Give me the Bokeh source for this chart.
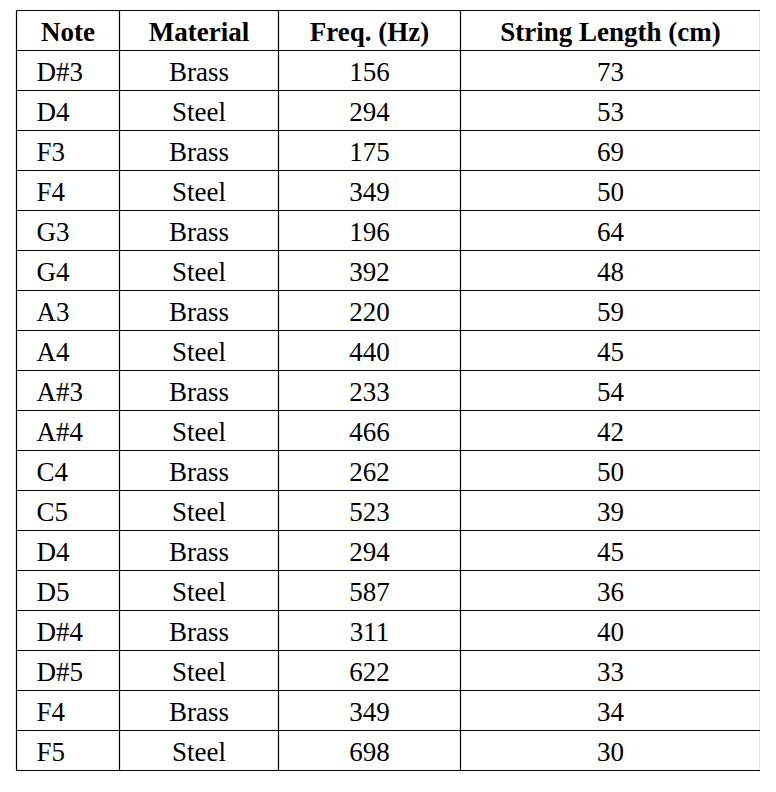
from bokeh.plotting import figure
from bokeh.models import Range1d
from bokeh.core.properties import value
from bokeh.embed import file_html
from bokeh.resources import INLINE

headers = ["Note", "Material", "Freq. (Hz)", "String Length (cm)"]
notes = ["D#3", "D4", "F3", "F4", "G3", "G4", "A3", "A4", "A#3", "A#4",
         "C4", "C5", "D4", "D5", "D#4", "D#5", "F4", "F5"]
materials = ["Brass", "Steel"] * 9
freqs = [156, 294, 175, 349, 196, 392, 220, 440, 233, 466,
         262, 523, 294, 587, 311, 622, 349, 698]
lengths = [73, 53, 69, 50, 64, 48, 59, 45, 54, 42,
           50, 39, 45, 36, 40, 33, 34, 30]

col_edges = [16, 119, 278, 460, 760]
top, row_h = 10, 40
n_rows = len(notes) + 1
bottom = top + n_rows * row_h

p = figure(width=760, height=776, x_range=Range1d(0, 760), y_range=Range1d(776, 0),
           output_backend="svg", toolbar_location=None, min_border=0)
p.axis.visible = False
p.grid.visible = False
p.outline_line_color = None

ys = [top + i * row_h for i in range(n_rows + 1)]
p.segment(x0=[col_edges[0]] * len(ys), x1=[col_edges[-1]] * len(ys), y0=ys, y1=ys,
          line_color="black", line_width=1.2)
p.segment(x0=col_edges, x1=col_edges, y0=[top] * len(col_edges), y1=[bottom] * len(col_edges),
          line_color="black", line_width=1.2)

font = value("Liberation Serif")
centers = [(col_edges[i] + col_edges[i + 1]) / 2 for i in range(4)]
hy = top + row_h / 2 + 1
p.text(x=centers, y=[hy] * 4, text=headers, text_font=font, text_font_size="27px",
       text_font_style="bold", text_align="center", text_baseline="middle")

rys = [top + (i + 1) * row_h + row_h / 2 + 1 for i in range(len(notes))]
p.text(x=[col_edges[0] + 20] * len(notes), y=rys, text=notes, text_font=font,
       text_font_size="27px", text_align="left", text_baseline="middle")
for ci, col in enumerate([materials, [str(f) for f in freqs], [str(l) for l in lengths]], start=1):
    p.text(x=[centers[ci]] * len(col), y=rys, text=col, text_font=font,
           text_font_size="27px", text_align="center", text_baseline="middle")

open("out.html", "w").write(file_html(p, INLINE))
